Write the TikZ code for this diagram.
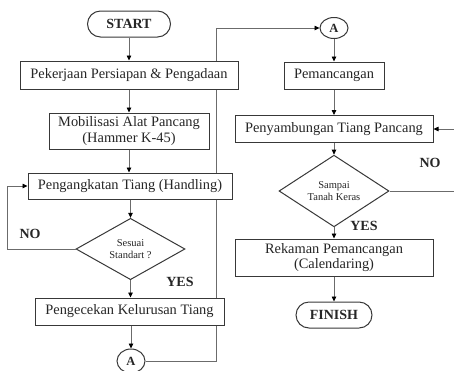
\documentclass[tikz,border=0pt]{standalone}
\usepackage{fontspec}
\setmainfont{Liberation Serif}
\usetikzlibrary{shapes.geometric,arrows.meta,backgrounds}
\definecolor{linegray}{gray}{0.42}
\definecolor{boxgray}{gray}{0.22}
\definecolor{textgray}{gray}{0.15}
\tikzset{
  procbox/.style={draw=boxgray, line width=1pt, fill=white, inner sep=0pt,
    text=textgray, align=center, font=\fontsize{14.4}{15.5}\selectfont},
  termbox/.style={draw=boxgray, line width=1pt, fill=white, inner sep=0pt,
    rounded corners=13pt, text=textgray, font=\fontsize{14}{16}\selectfont\bfseries},
  connbox/.style={draw=boxgray, line width=1pt, fill=white, ellipse, inner sep=0pt,
    text=textgray, font=\fontsize{12.5}{14}\selectfont\bfseries},
  decbox/.style={draw=boxgray, line width=1pt, fill=white, diamond, inner sep=0pt,
    text=textgray, align=center, font=\fontsize{10.5}{12}\selectfont},
  lbl/.style={text=textgray, font=\fontsize{14}{16}\selectfont\bfseries, inner sep=1pt},
  arr/.style={draw=linegray, line width=0.8pt,
    -{Triangle[length=5pt,width=4.5pt,color=black]}},
}
\begin{document}
\begin{tikzpicture}[x=1pt,y=-1pt]
\useasboundingbox (0,0) rectangle (454,370);

% left column
\node[termbox, minimum width=83pt, minimum height=26pt] (start) at (129,24) {START};
\node[procbox, minimum width=218pt, minimum height=28pt] (pek) at (129,75) {Pekerjaan Persiapan \& Pengadaan};
\node[procbox, minimum width=160pt, minimum height=36pt] (mob) at (129,131) {Mobilisasi Alat Pancang\\(Hammer K-45)};
\node[procbox, minimum width=204pt, minimum height=26pt] (angk) at (130,186) {Pengangkatan Tiang (Handling)};
\node[decbox, minimum width=109pt, minimum height=47pt] (sesuai) at (130.5,249) {Sesuai\\Standart ?};
\node[procbox, minimum width=189pt, minimum height=27pt] (cek) at (129.5,311.5) {Pengecekan Kelurusan Tiang};
\node[connbox, minimum width=28pt, minimum height=24pt] (abot) at (131,361) {A};

% right column
\node[connbox, minimum width=28pt, minimum height=21pt] (atop) at (334,28) {A};
\node[procbox, minimum width=100pt, minimum height=27pt] (pem) at (334,75.5) {Pemancangan};
\node[procbox, minimum width=198pt, minimum height=27pt] (peny) at (334,129) {Penyambungan Tiang Pancang};
\node[decbox, minimum width=110pt, minimum height=48pt] (sampai) at (334,191) {Sampai\\Tanah Keras};
\node[procbox, minimum width=198pt, minimum height=37pt] (rek) at (334,257.5) {Rekaman Pemancangan\\(Calendaring)};
\node[termbox, minimum width=76pt, minimum height=26pt] (finish) at (334,315) {FINISH};

% branch labels
\node[lbl] (no1) at (30,234) {NO};
\node[lbl] (yes1) at (180,282) {YES};
\node[lbl] (no2) at (430,163) {NO};
\node[lbl] (yes2) at (364,226) {YES};

% loop-back and column-link corners
\coordinate (nol) at (7,249);
\coordinate (jb) at (216,361);
\coordinate (jt) at (216,28);
\coordinate (nor) at (455,191);

% link from the bottom connector to the top one, behind the boxes
\begin{pgfonlayer}{background}
\draw[arr] (abot.east) -- (jb) -- (jt) -- (atop.west);
\end{pgfonlayer}

% left column flow
\draw[arr] (start.south) -- (pek.north);
\draw[arr] (pek.south) -- (mob.north);
\draw[arr] (mob.south) -- (mob.south |- angk.north);
\draw[arr] (sesuai.north |- angk.south) -- (sesuai.north);
\draw[arr] (sesuai.south) -- (sesuai.south |- cek.north);
\draw[arr] (abot.north |- cek.south) -- (abot.north);
\draw[arr] (sesuai.west) -- (nol) |- (angk.west);

% right column flow
\draw[arr] (atop.south) -- (pem.north);
\draw[arr] (pem.south) -- (peny.north);
\draw[arr] (peny.south) -- (sampai.north);
\draw[arr] (sampai.south) -- (rek.north);
\draw[arr] (rek.south) -- (finish.north);
\draw[arr] (sampai.east) -- (nor) |- (peny.east);
\end{tikzpicture}
\end{document}
